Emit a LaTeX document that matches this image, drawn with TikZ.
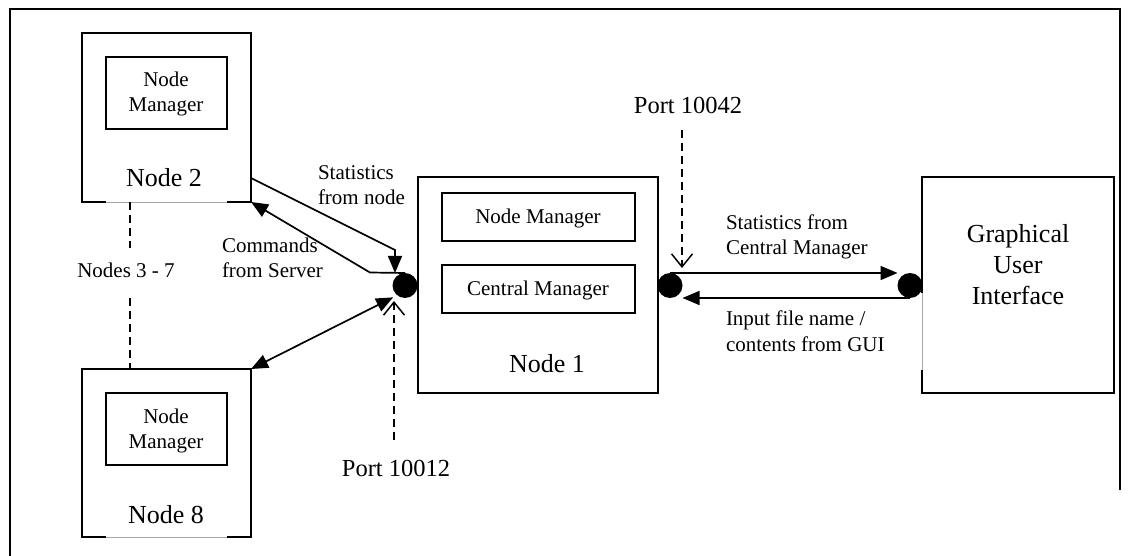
\documentclass[tikz,border=0pt]{standalone}
\usepackage{fontspec}
\setmainfont{Liberation Serif}
\usetikzlibrary{arrows.meta}
\newcommand\lblfont{\fontsize{21}{25}\selectfont}
\newcommand\bigfont{\fontsize{26}{31}\selectfont}
\newcommand\portfont{\fontsize{24.5}{29}\selectfont}
\begin{document}
\begin{tikzpicture}[x=1pt,y=-1pt,
  box/.style={draw, line width=1.8pt, inner sep=0pt, outer sep=0pt, anchor=north west},
  port/.style={circle, fill=black, minimum size=25pt, inner sep=0pt, outer sep=0pt},
  txt/.style={inner sep=0pt, outer sep=0pt, anchor=base},
  small/.style={txt, font=\lblfont},
  big/.style={txt, font=\bigfont},
  conn/.style={line width=1.7pt, -{Triangle[length=17pt,width=14pt]}},
  biconn/.style={line width=1.7pt, {Triangle[length=17pt,width=14pt]}-{Triangle[length=17pt,width=14pt]}},
  portline/.style={line width=1.5pt, dash pattern=on 8pt off 5pt, -{Straight Barb[length=13pt,width=21pt,line width=1.5pt]}},
  nodesline/.style={line width=1.5pt, dash pattern=on 8pt off 5pt},
  faint/.style={draw=gray!70, line width=0.7pt},
  erase/.style={draw=white, line width=2.4pt}]
\useasboundingbox (0,0) rectangle (1128,556);

% outer frame
\draw[line width=1.8pt] (10,556) -- (10,9) -- (1120,9) -- (1120,490);

% Node 2
\node[box, minimum width=169pt, minimum height=169pt] (n2) at (82,33) {};
\node[box, minimum width=121pt, minimum height=72pt] (n2nm) at (106,57) {};
\node[small, align=center] (n2nmt) at (166,112) {Node\\Manager};
\node[big] (n2t) at (164,187) {Node 2};
\draw[erase] (106,202) -- (227,202);
\draw[faint] (106,202) -- (227,202);

% Node 8
\node[box, minimum width=169pt, minimum height=168pt] (n8) at (82,369) {};
\node[box, minimum width=121pt, minimum height=72pt] (n8nm) at (106,393) {};
\node[small, align=center] (n8nmt) at (166,448) {Node\\Manager};
\node[big] (n8t) at (166,523) {Node 8};
\draw[erase] (106,537) -- (227,537);
\draw[faint] (106,537) -- (227,537);

% Nodes 3 - 7
\node[small] (mid) at (126,278) {Nodes 3 - 7};
\coordinate (d1) at (130,248);
\coordinate (d2) at (130,298);
\draw[nodesline] (n2.south -| d1) -- (d1);
\draw[nodesline] (d2) -- (n8.north -| d2);

% Node 1
\node[box, minimum width=240pt, minimum height=216pt] (n1) at (418,177) {};
\node[box, minimum width=193pt, minimum height=48pt] (n1nm) at (442,193) {};
\node[box, minimum width=193pt, minimum height=48pt] (n1cm) at (442,265) {};
\node[small] (n1nmt) at (538,224) {Node Manager};
\node[small] (n1cmt) at (538,296) {Central Manager};
\node[big] (n1t) at (547,372) {Node 1};

% GUI
\node[box, minimum width=192pt, minimum height=216pt] (gui) at (922,177) {};
\node[big, align=center] (guit) at (1018,305) {Graphical\\User\\Interface};
\draw[erase] (922,293) -- (922,370);
\draw[faint] (922,293) -- (922,370);

% ports
\node[port] (pl) at (405,285.5) {};
\node[port] (pr) at (670,285.5) {};
\node[port] (pg) at (910,285.5) {};

% links between Node 2, Node 8 and Node 1
\coordinate (s0) at (251,178);
\coordinate (s1) at (395,250);
\coordinate (c1) at (370,272.5);
\draw[conn] (s0) -- (s1) -- (s1 |- pl.north);
\draw[conn] (pl.north) -- (c1) -- (n2.south east);
\draw[biconn] (n8.north east) -- ([shift={(-3,3)}]pl.south west);
\node[small, align=left, anchor=base west] (lst) at (318,205) {Statistics\\from node};
\node[small, align=left, anchor=base west] (lcm) at (222,278) {Commands\\from Server};

% links between Node 1 and GUI
\draw[conn] (pr.north) -- (pr.north -| pg.west);
\draw[conn] (pg.south) -- (pg.south -| pr.east);
\node[small, align=left, anchor=base west] (rst) at (726,255) {Statistics from\\Central Manager};
\node[small, align=left, anchor=base west] (rin) at (726,351) {Input file name /\\contents from GUI};

% port labels
\node[txt, font=\portfont] (p12) at (396,476) {Port 10012};
\node[txt, font=\portfont] (p42) at (688,114) {Port 10042};
\coordinate (a12) at (394,440);
\coordinate (a42) at (682,130);
\draw[portline, shorten >=3pt] (a12) -- (a12 |- pl.south);
\draw[portline, shorten >=5pt] (a42) -- (a42 |- pr.north);
\end{tikzpicture}
\end{document}
